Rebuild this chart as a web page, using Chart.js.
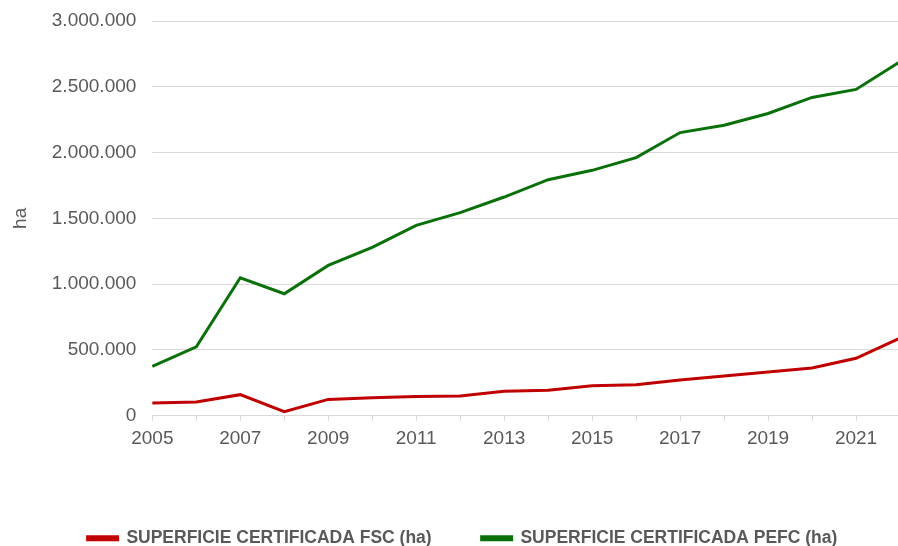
<!DOCTYPE html>
<html>
<head>
<meta charset="utf-8">
<script src="https://cdn.jsdelivr.net/npm/chart.js@4.4.1/dist/chart.umd.min.js"></script>
<style>
  html, body { margin: 0; padding: 0; background: #fff; overflow: hidden; }
  #wrap { position: relative; width: 900px; height: 546px; }
</style>
</head>
<body>
<div id="wrap"><canvas id="chart"></canvas></div>
<script>
// Data
const years = ['2005', '2006', '2007', '2008', '2009', '2010', '2011', '2012', '2013',
  '2014', '2015', '2016', '2017', '2018', '2019', '2020', '2021', '2022'];
const fscValues = [97000, 104000, 160000, 30000, 124000, 137000, 145000, 150000, 185000,
  193000, 228000, 236000, 272000, 302000, 333000, 363000, 436000, 590000];
const pefcValues = [375000, 523000, 1048000, 927000, 1142000, 1279000, 1447000, 1543000, 1662000,
  1794000, 1865000, 1962000, 2152000, 2208000, 2297000, 2419000, 2480000, 2690000];
const seriesNames = ['SUPERFICIE CERTIFICADA FSC (ha)', 'SUPERFICIE CERTIFICADA PEFC (ha)'];
const yTicks = [0, 500000, 1000000, 1500000, 2000000, 2500000, 3000000];

const gridColor = '#d9d9d9';
const textColor = '#595959';
const fmt = v => v.toLocaleString('de-DE');

// nudge the legend a bit to the right, like the original
const legendShift = {
  id: 'legendShift',
  afterLayout(chart) {
    chart.legend.left += 10;
    chart.legend.right += 10;
  }
};

new Chart(document.getElementById('chart'), {
  type: 'line',
  data: {
    labels: years,
    datasets: [
      {
        label: seriesNames[0],
        data: fscValues,
        borderColor: '#c00000',
        backgroundColor: '#c00000',
        borderWidth: 3,
        pointRadius: 0,
        tension: 0
      },
      {
        label: seriesNames[1],
        data: pefcValues,
        borderColor: '#0a700a',
        backgroundColor: '#0a700a',
        borderWidth: 3,
        pointRadius: 0,
        tension: 0
      }
    ]
  },
  plugins: [legendShift],
  options: {
    responsive: true,
    maintainAspectRatio: false,
    animation: false,
    layout: { padding: { top: 21, left: 5, right: 0, bottom: -11 } },
    plugins: {
      tooltip: { enabled: false },
      legend: {
        position: 'bottom',
        labels: {
          boxWidth: 30,
          boxHeight: 3,
          padding: 50,
          color: textColor,
          font: { family: 'Liberation Sans, Arial', size: 17.5, weight: 'bold' }
        }
      }
    },
    scales: {
      x: {
        offset: false,
        afterFit: axis => { axis.paddingRight = 0; },
        grid: { display: true, drawOnChartArea: false, color: gridColor, tickLength: 5 },
        border: { display: true, color: gridColor },
        title: {
          display: true,
          text: ' ',
          font: { size: 10 },
          padding: { top: 10, bottom: 0 }
        },
        ticks: {
          autoSkip: false,
          maxRotation: 0,
          color: textColor,
          padding: 7,
          font: { family: 'Liberation Sans, Arial', size: 19 },
          callback: (v, i) => (i % 2 === 0 ? years[i] : '')
        }
      },
      y: {
        min: 0,
        max: 3000000,
        afterBuildTicks: axis => { axis.ticks = yTicks.map(v => ({ value: v })); },
        afterFit: axis => { axis.paddingTop = 0; axis.paddingBottom = 0; },
        grid: { color: gridColor, drawTicks: false },
        border: { display: false },
        title: {
          display: true,
          text: 'ha',
          color: textColor,
          font: { family: 'Liberation Sans, Arial', size: 19 }
        },
        ticks: {
          color: textColor,
          padding: 16,
          font: { family: 'Liberation Sans, Arial', size: 19 },
          callback: v => fmt(v)
        }
      }
    }
  }
});
</script>
</body>
</html>
